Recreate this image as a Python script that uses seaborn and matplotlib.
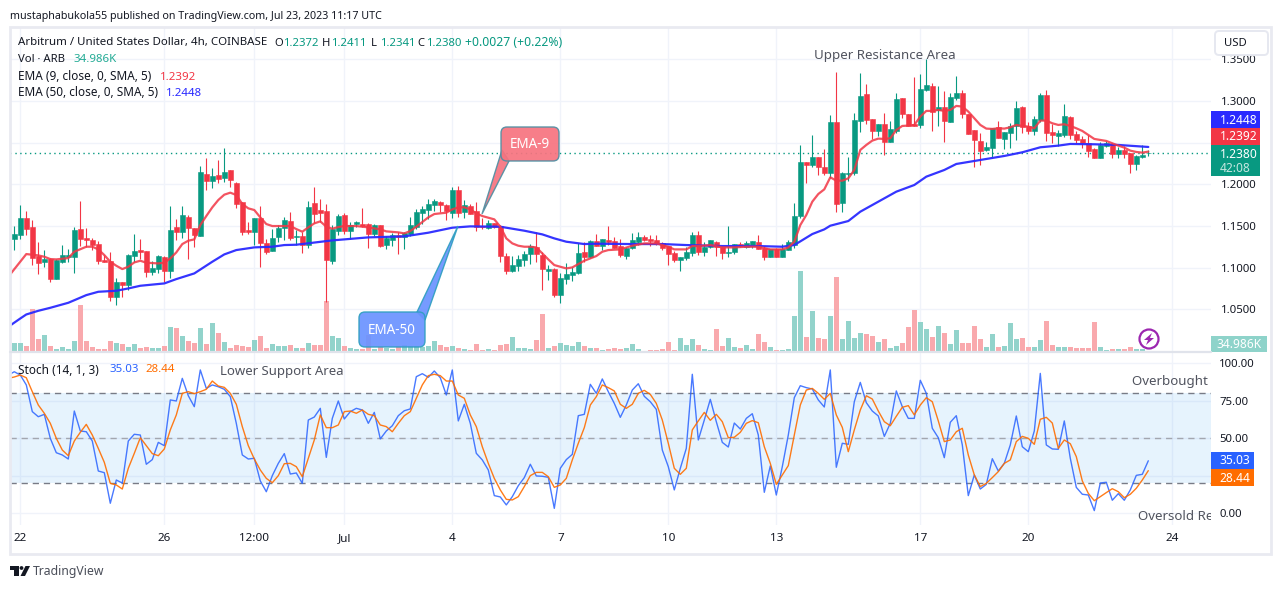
import matplotlib
matplotlib.use('Agg')
import matplotlib.pyplot as plt
from matplotlib import patches
import numpy as np
import seaborn as sns

# Prix (bougies 4h)
direction = list(
    "GGRRRGRGGG" "GRRRRRRGRG" "GRRGGRGRGR" "RGRGRGRRRR" "GRRGGGRGRG"
    "RRRGGRGGRR" "GRGGRGGGGG" "GRRGRGRRRG" "RRRGGGGRRG" "RGGGGRGRGR"
    "RRGGGRRRRR" "RGGGRGGRRG" "GRGGRRGRGG" "GGRGRRGRGG" "GGRRGRGGRR"
    "RGGRGRGGRR" "RRGGRGGGRR" "GGRRGGRRRR" "RGGRGRRGGG"
)

high = [
    1.1500,1.1752,1.1680,1.1572,1.1308,1.1212,1.1116,1.1104,1.1272,1.1224,
    1.1488,1.1800,1.1476,1.1356,1.1320,1.1152,1.1188,1.0876,1.0828,1.1164,
    1.1404,1.1344,1.1200,1.1080,1.1152,1.1140,1.1740,1.1584,1.1740,1.1632,
    1.1476,1.2220,1.2316,1.2196,1.2292,1.2436,1.2172,1.2028,1.1788,1.1548,
    1.1596,1.1740,1.1344,1.1464,1.1512,1.1608,1.1668,1.1452,1.1428,1.1800,
    1.1968,1.1824,1.1764,1.1512,1.1644,1.1656,1.1548,1.1560,1.1716,1.1536,
    1.1524,1.1512,1.1380,1.1416,1.1428,1.1428,1.1608,1.1704,1.1740,1.1824,
    1.1824,1.1800,1.1764,1.1968,1.1980,1.1812,1.1764,1.1788,1.1596,1.1572,
    1.1536,1.1512,1.1176,1.1140,1.1152,1.1200,1.1284,1.1428,1.1188,1.1032,
    1.0996,1.0936,1.1056,1.1008,1.1296,1.1308,1.1332,1.1404,1.1344,1.1500,
    1.1368,1.1344,1.1248,1.1416,1.1428,1.1392,1.1392,1.1392,1.1308,1.1260,
    1.1200,1.1128,1.1248,1.1428,1.1440,1.1308,1.1332,1.1320,1.1248,1.1500,
    1.1284,1.1308,1.1320,1.1320,1.1392,1.1260,1.1224,1.1236,1.1284,1.1332,
    1.1776,1.2472,1.2268,1.2592,1.2328,1.2424,1.2832,1.3348,1.2148,1.2328,
    1.2856,1.3336,1.3204,1.2784,1.2724,1.2856,1.2760,1.3096,1.3036,1.2844,
    1.3288,1.3324,1.3504,1.3216,1.3180,1.3120,1.3096,1.3300,1.3132,1.2844,
    1.2652,1.2616,1.2508,1.2676,1.2760,1.2628,1.2736,1.3000,1.2940,1.2748,
    1.2820,1.3096,1.3132,1.2724,1.2652,1.2964,1.2820,1.2640,1.2580,1.2592,
    1.2436,1.2508,1.2520,1.2496,1.2448,1.2460,1.2376,1.2352,1.2472,1.2411,
]
body_top = [
    1.1404,1.1596,1.1596,1.1488,1.1140,1.1104,1.1104,1.1092,1.1152,1.1152,
    1.1452,1.1464,1.1356,1.1332,1.1284,1.1092,1.1080,1.0828,1.0828,1.1152,
    1.1200,1.1212,1.1200,1.0996,1.1140,1.1128,1.1452,1.1488,1.1632,1.1608,
    1.1476,1.2148,1.2124,1.2100,1.2112,1.2148,1.2172,1.2016,1.1788,1.1452,
    1.1596,1.1596,1.1296,1.1356,1.1476,1.1572,1.1560,1.1380,1.1380,1.1728,
    1.1776,1.1692,1.1680,1.1464,1.1620,1.1632,1.1512,1.1548,1.1524,1.1524,
    1.1512,1.1512,1.1356,1.1392,1.1392,1.1416,1.1512,1.1668,1.1704,1.1764,
    1.1800,1.1788,1.1752,1.1932,1.1932,1.1752,1.1740,1.1680,1.1500,1.1536,
    1.1536,1.1500,1.1140,1.1032,1.1104,1.1164,1.1260,1.1248,1.1152,1.0984,
    1.0984,1.0876,1.0924,1.0948,1.1176,1.1188,1.1320,1.1320,1.1344,1.1332,
    1.1320,1.1260,1.1236,1.1332,1.1368,1.1368,1.1344,1.1332,1.1296,1.1260,
    1.1176,1.1128,1.1188,1.1392,1.1392,1.1248,1.1332,1.1308,1.1248,1.1188,
    1.1284,1.1284,1.1296,1.1320,1.1308,1.1236,1.1224,1.1224,1.1224,1.1308,
    1.1620,1.2268,1.2268,1.2328,1.2328,1.2208,1.2748,1.2748,1.2136,1.2136,
    1.2772,1.3060,1.3084,1.2784,1.2724,1.2724,1.2664,1.3024,1.3036,1.2844,
    1.2724,1.3144,1.3192,1.3180,1.2928,1.2928,1.3048,1.3096,1.3096,1.2844,
    1.2652,1.2520,1.2448,1.2676,1.2688,1.2628,1.2700,1.2916,1.2928,1.2700,
    1.2784,1.3072,1.3072,1.2628,1.2616,1.2820,1.2808,1.2604,1.2544,1.2496,
    1.2424,1.2472,1.2492,1.2484,1.2412,1.2412,1.2376,1.2340,1.2352,1.2380,
]
body_bottom = [
    1.1344,1.1392,1.1464,1.1116,1.1056,1.1068,1.0864,1.0864,1.1068,1.1128,
    1.1128,1.1344,1.1332,1.1272,1.1080,1.1068,1.0648,1.0648,1.0792,1.0792,
    1.1140,1.1188,1.0948,1.0948,1.0984,1.0960,1.0960,1.1428,1.1428,1.1476,
    1.1392,1.1380,1.2040,1.2040,1.2064,1.2076,1.2052,1.1764,1.1428,1.1428,
    1.1428,1.1296,1.1188,1.1200,1.1368,1.1476,1.1356,1.1368,1.1272,1.1272,
    1.1644,1.1656,1.1092,1.1080,1.1440,1.1440,1.1440,1.1524,1.1500,1.1404,
    1.1404,1.1260,1.1272,1.1332,1.1368,1.1368,1.1404,1.1488,1.1656,1.1692,
    1.1752,1.1752,1.1680,1.1656,1.1656,1.1668,1.1644,1.1488,1.1488,1.1476,
    1.1488,1.1140,1.0960,1.0960,1.1020,1.1092,1.1164,1.1164,1.0984,1.0960,
    1.0672,1.0672,1.0864,1.0912,1.0936,1.1128,1.1128,1.1260,1.1260,1.1308,
    1.1236,1.1152,1.1140,1.1236,1.1308,1.1332,1.1320,1.1284,1.1236,1.1164,
    1.1092,1.1092,1.1116,1.1176,1.1188,1.1188,1.1248,1.1248,1.1176,1.1176,
    1.1188,1.1272,1.1248,1.1272,1.1224,1.1128,1.1128,1.1128,1.1128,1.1212,
    1.1272,1.1620,1.2232,1.2232,1.2208,1.2136,1.2136,1.1764,1.1776,1.2124,
    1.2136,1.2760,1.2772,1.2640,1.2640,1.2508,1.2508,1.2640,1.2844,1.2700,
    1.2700,1.2712,1.3132,1.2868,1.2892,1.2760,1.2748,1.3036,1.2844,1.2604,
    1.2532,1.2400,1.2412,1.2436,1.2556,1.2544,1.2616,1.2700,1.2688,1.2640,
    1.2640,1.2772,1.2616,1.2592,1.2580,1.2592,1.2592,1.2532,1.2496,1.2400,
    1.2316,1.2316,1.2460,1.2364,1.2364,1.2364,1.2244,1.2244,1.2328,1.2372,
]
low = [
    1.1212,1.1344,1.1392,1.1032,1.0924,1.1008,1.0828,1.0864,1.1056,1.1068,
    1.0936,1.1260,1.1248,1.1212,1.1044,1.1068,1.0600,1.0552,1.0648,1.0732,
    1.1068,1.1104,1.0888,1.0912,1.0936,1.0828,1.0876,1.1332,1.1356,1.1104,
    1.1248,1.1380,1.1932,1.1956,1.2016,1.2028,1.1968,1.1716,1.1392,1.1404,
    1.1272,1.1008,1.1164,1.1200,1.1308,1.1332,1.1332,1.1272,1.1176,1.1236,
    1.1536,1.1548,1.0592,1.1044,1.1392,1.1404,1.1344,1.1488,1.1488,1.1236,
    1.1380,1.1248,1.1224,1.1260,1.1164,1.1224,1.1380,1.1464,1.1524,1.1584,
    1.1680,1.1668,1.1572,1.1596,1.1608,1.1596,1.1644,1.1440,1.1464,1.1464,
    1.1476,1.1068,1.0924,1.0948,1.0960,1.1020,1.1044,1.1068,1.0732,1.0852,
    1.0648,1.0576,1.0804,1.0840,1.0924,1.1068,1.1116,1.1260,1.1212,1.1272,
    1.1236,1.1128,1.1104,1.1224,1.1272,1.1320,1.1260,1.1272,1.1212,1.1032,
    1.1068,1.0960,1.1092,1.1140,1.1152,1.1140,1.1236,1.1140,1.1104,1.1128,
    1.1164,1.1248,1.1236,1.1236,1.1224,1.1092,1.1128,1.1128,1.1128,1.1212,
    1.1236,1.1596,1.2016,1.2208,1.2112,1.2112,1.2076,1.1668,1.1668,1.2040,
    1.2112,1.2628,1.2724,1.2544,1.2580,1.2352,1.2508,1.2616,1.2796,1.2700,
    1.2700,1.2676,1.3120,1.2640,1.2700,1.2508,1.2748,1.3012,1.2796,1.2604,
    1.2208,1.2232,1.2400,1.2328,1.2556,1.2424,1.2436,1.2532,1.2616,1.2604,
    1.2592,1.2748,1.2520,1.2496,1.2460,1.2568,1.2544,1.2496,1.2436,1.2328,
    1.2316,1.2316,1.2452,1.2316,1.2316,1.2316,1.2136,1.2172,1.2316,1.2341,
]

# Volume en milliers
volume = [
    225,225,150,1075,325,425,150,75,125,75,275,1175,275,125,75,75,275,225,200,125,
    200,100,125,100,100,150,625,600,400,275,225,600,200,725,475,250,100,175,150,125,
    300,400,100,200,150,150,175,100,
    100,225,175,175,1275,400,350,150,100,75,75,425,75,125,100,75,150,175,150,150,
    125,150,275,175,125,150,100,75,50,200,50,75,50,175,200,375,100,100,75,300,
    950,100,150,225,175,150,250,150,100,
    100,50,75,100,75,100,200,75,25,50,50,75,250,50,350,175,325,175,75,50,
    575,150,350,125,100,175,75,450,250,125,50,50,75,900,2025,375,1025,350,325,900,
    1875,325,775,350,475,450,
    400,250,325,100,150,225,625,1050,750,575,375,650,475,200,550,225,225,650,325,125,
    450,125,150,725,325,350,125,125,300,775,175,125,125,125,100,100,100,750,125,50,
    75,75,75,125,75,75,34.986,
]

# Moyennes mobiles : indice de bougie, valeur
ema9_idx = [
    -1,1,2,4,5,6,7,9,10,12,13,14,15,16,17,18,19,20,21,22,24,25,26,27,28,29,30,31,32,33,
    34,35,36,37,38,39,40,41,42,43,45,46,47,48,49,50,51,52,53,54,55,57,59,61,62,64,65,66,67,68,
    69,70,71,72,73,74,75,76,77,78,79,80,81,82,83,84,85,86,87,88,89,90,91,92,93,94,95,96,97,98,
    99,101,103,105,107,108,109,110,112,113,114,116,118,120,122,124,126,128,129,130,131,132,133,134,135,136,137,138,139,140,
    141,142,143,144,145,146,147,148,149,150,151,152,153,154,155,156,157,158,159,160,161,162,163,164,165,166,167,168,169,170,
    171,172,173,174,175,176,177,178,179,180,181,182,183,184,185,186,187,188,189,
]
ema9 = [
    1.0892,1.1072,1.1164,1.1148,1.1132,1.1104,1.1100,1.1116,1.1192,1.1252,1.1252,1.1220,1.1152,1.1072,1.1024,1.0984,1.1012,1.1064,1.1084,1.1060,
    1.1052,1.1060,1.1112,1.1184,1.1284,1.1324,1.1340,1.1512,1.1620,1.1724,
    1.1812,1.1876,1.1900,1.1872,1.1764,1.1712,1.1692,1.1604,1.1524,1.1500,1.1500,1.1500,1.1464,1.1432,1.1484,1.1532,1.1556,1.1492,1.1468,1.1488,
    1.1500,1.1500,1.1484,1.1460,1.1436,1.1424,1.1412,1.1440,1.1492,1.1548,
    1.1604,1.1644,1.1652,1.1660,1.1700,1.1724,1.1724,1.1700,1.1652,1.1620,1.1600,1.1580,1.1492,1.1352,1.1292,1.1264,1.1252,1.1252,1.1244,1.1172,
    1.1100,1.1032,1.1012,1.0992,1.1004,1.1044,1.1084,1.1112,1.1140,1.1192,
    1.1212,1.1220,1.1264,1.1292,1.1292,1.1272,1.1252,1.1220,1.1220,1.1260,1.1260,1.1272,1.1244,1.1244,1.1252,1.1252,1.1220,1.1220,1.1244,1.1312,
    1.1512,1.1632,1.1792,1.1884,1.1940,1.2084,1.2044,1.2044,1.2072,1.2172,
    1.2412,1.2472,1.2524,1.2548,1.2544,1.2552,1.2652,1.2700,1.2704,1.2712,1.2812,1.2880,1.2880,1.2892,1.2880,1.2892,1.2940,1.2932,1.2872,1.2792,
    1.2712,1.2668,1.2664,1.2672,1.2668,1.2684,1.2712,1.2700,1.2692,1.2672,
    1.2764,1.2764,1.2732,1.2712,1.2720,1.2700,1.2672,1.2640,1.2592,1.2544,1.2532,1.2520,1.2492,1.2464,1.2440,1.2404,1.2388,1.2380,1.2392,
]
ema50_idx = [
    -1,1,2,4,6,9,12,14,17,19,21,25,27,30,33,35,37,40,43,45,47,53,59,65,69,73,76,81,85,88,
    90,92,95,97,103,108,112,118,124,128,130,133,135,136,139,141,144,147,150,152,155,157,161,165,168,171,174,176,180,184,189,
]
ema50 = [
    1.0292,1.0392,1.0440,1.0484,1.0520,1.0580,1.0672,1.0712,1.0724,1.0752,1.0784,1.0812,1.0864,1.0932,1.1072,1.1160,1.1212,1.1244,1.1252,1.1272,
    1.1276,1.1328,1.1364,1.1376,1.1420,1.1480,1.1496,1.1492,1.1444,1.1400,
    1.1352,1.1312,1.1284,1.1288,1.1284,1.1284,1.1272,1.1260,1.1260,1.1252,1.1272,1.1404,1.1460,1.1504,1.1560,1.1672,1.1792,1.1912,1.1992,1.2092,
    1.2172,1.2244,1.2292,1.2340,1.2384,1.2444,1.2464,1.2484,1.2480,1.2472,1.2448,
]

# Stochastique, de l'indice -1 a 189
stoch_k = [
    92.2,94.4,92.2,85.6,67.8,64.4,66.0,50.0,40.4,38.9,36.2,68.2,54.9,54.4,48.2,28.2,27.1,6.7,22.2,20.2,
    48.2,52.7,52.2,32.7,35.8,47.3,45.1,75.6,74.9,90.0,78.4,71.1,95.6,83.3,85.6,84.4,82.7,77.8,60.0,38.9,
    36.2,36.7,21.6,14.4,25.1,33.3,39.8,26.2,26.9,20.0,62.2,64.2,70.0,37.3,63.3,74.9,62.9,67.8,70.0,68.9,
    60.0,67.3,49.6,54.9,58.4,65.1,
    68.4,69.6,91.1,93.1,90.7,94.9,90.4,78.9,95.6,61.6,72.7,60.0,40.0,35.6,28.9,11.8,10.9,5.6,11.1,18.4,
    23.8,32.7,24.9,24.7,24.0,3.3,30.0,35.8,39.3,65.1,66.0,86.0,80.0,89.6,81.1,73.3,64.0,72.2,82.2,86.4,
    78.0,74.4,69.3,42.2,31.1,15.6,30.0,43.3,92.7,48.9,62.2,76.0,61.1,47.3,44.2,60.2,56.2,63.3,66.4,52.2,
    14.0,31.6,12.2,31.1,52.2,77.1,85.1,
    83.8,82.9,75.6,70.9,95.6,30.7,46.7,46.0,74.4,87.3,73.8,68.2,64.9,51.3,60.0,81.6,71.1,63.3,63.3,88.7,
    80.0,56.7,50.4,37.1,60.7,65.1,45.6,11.8,25.6,16.2,19.3,36.4,28.2,33.3,45.6,64.9,44.4,41.1,54.9,93.3,
    45.6,42.9,42.7,61.6,36.7,17.3,12.7,12.2,1.8,20.2,20.7,8.7,13.1,8.7,15.6,25.3,26.0,35.03,
]
stoch_d = [
    90.0,90.9,92.2,90.4,81.1,72.2,66.7,60.0,50.0,42.2,38.4,48.2,54.0,59.3,52.2,43.3,34.0,20.0,18.9,16.2,
    30.0,40.0,50.4,45.1,39.8,38.4,42.9,55.6,65.6,80.0,81.1,79.8,81.1,82.7,88.2,84.9,84.0,80.0,72.7,57.8,
    45.1,36.2,28.9,23.3,20.4,25.1,33.1,33.3,31.1,24.4,36.7,48.9,65.6,57.1,57.1,58.9,67.8,68.2,66.7,68.9,
    66.0,65.1,58.9,57.8,54.4,60.0,
    65.1,67.8,76.7,85.6,91.8,92.7,91.8,88.2,88.2,78.9,76.7,65.6,57.8,44.4,33.3,23.3,15.6,9.3,8.9,11.1,
    17.8,25.1,27.3,27.3,24.4,17.3,18.9,23.3,35.6,46.7,57.1,72.2,77.8,85.6,83.8,81.6,72.7,70.0,72.7,80.0,
    82.0,79.3,73.3,62.2,46.7,30.0,26.0,30.0,55.6,61.6,67.3,62.0,66.0,61.1,50.4,50.7,54.0,60.0,61.8,60.4,
    44.4,33.3,19.3,25.6,31.8,52.2,72.2,
    82.2,83.3,80.0,76.0,80.0,65.6,57.3,41.1,55.6,68.9,78.4,76.2,68.2,61.1,58.4,64.7,70.7,71.8,65.6,72.2,
    77.1,74.4,61.6,47.8,48.9,54.4,56.7,38.9,25.6,17.8,20.0,23.8,27.8,33.3,35.6,47.8,51.3,50.0,46.0,62.7,
    64.0,60.2,43.3,48.9,46.4,37.8,21.6,13.3,8.4,11.1,13.8,16.4,14.4,10.4,12.7,16.7,22.2,28.44,
]

# 1.2500 et 25.00 restent caches par les etiquettes dans l'original
price_ticks = [1.05, 1.10, 1.15, 1.20, 1.25, 1.30, 1.35]
price_labels = ['1.0500', '1.1000', '1.1500', '1.2000', '', '1.3000', '1.3500']
stoch_ticks = [0, 25, 50, 75, 100]
stoch_labels = ['0.00', '', '50.00', '75.00', '100.00']
time_ticks = [1, 25, 40, 55, 73, 91, 109, 127, 151, 169, 193]
time_labels = ['22', '26', '12:00', 'Jul', '4', '7', '10', '13', '17', '20', '24']
last_close = 1.2380

GREEN = '#089981'
RED = '#F23645'
TXT = '#131722'
SOFT = '#50535E'
GRID = '#F0F3FA'

W, H = 1281, 589
sns.set_theme(style='white')
plt.rcParams['font.family'] = ['Noto Sans', 'DejaVu Sans']

fig = plt.figure(figsize=(W / 100, H / 100), dpi=100, facecolor='white')


def rect(left, top, right, bottom):
    return [left / W, 1 - bottom / H, (right - left) / W, (bottom - top) / H]


xlim = (-0.717, 199.45)
price_lim = (0.9990, 1.3886)

ax_grid = fig.add_axes(rect(10, 27, 1211, 352))
ax_vol = fig.add_axes(rect(10, 27, 1211, 352))
ax_price = fig.add_axes(rect(10, 27, 1211, 352))
ax_stoch = fig.add_axes(rect(10, 353, 1211, 525))

# grille
ax_grid.set_xlim(xlim)
ax_grid.set_ylim(price_lim)
ax_grid.set_xticks(time_ticks)
ax_grid.set_yticks(price_ticks)
ax_grid.grid(True, color=GRID, lw=1)
ax_grid.tick_params(left=False, bottom=False, labelleft=False, labelbottom=False)

# volume
bar_idx = np.arange(len(volume))
vol_colors = ['#92D3CB' if d == 'G' else '#F9A9AD' for d in direction]
ax_vol.bar(bar_idx, volume, width=0.78, color=vol_colors, lw=0)
ax_vol.set_xlim(xlim)
ax_vol.set_ylim(0, 8125)
ax_vol.patch.set_alpha(0)
ax_vol.axis('off')

# bougies
x = np.arange(len(high))
colors = [GREEN if d == 'G' else RED for d in direction]
ax_price.vlines(x, low, high, colors=colors, lw=0.8, zorder=2)
heights = np.array(body_top) - np.array(body_bottom)
ax_price.bar(x, heights, bottom=body_bottom, width=0.76, color=colors, edgecolor=colors, lw=0.4, zorder=3)
ax_price.axhline(last_close, color=GREEN, lw=1, ls=(0, (1, 2.5)), zorder=1)
sns.lineplot(x=ema50_idx, y=ema50, color='#2A2AFF', lw=1.6, alpha=0.95, ax=ax_price, zorder=4)
sns.lineplot(x=ema9_idx, y=ema9, color='#F23645', lw=1.6, alpha=0.85, ax=ax_price, zorder=5)
ax_price.set_xlim(xlim)
ax_price.set_ylim(price_lim)
ax_price.patch.set_alpha(0)
ax_price.set_xticks([])
ax_price.set_yticks(price_ticks)
ax_price.set_yticklabels(price_labels)
ax_price.yaxis.tick_right()
ax_price.tick_params(axis='y', length=0, pad=7.5, labelsize=8.2, labelcolor=TXT)
for side in ax_price.spines.values():
    side.set_visible(False)
for a in (ax_grid, ax_vol):
    for side in a.spines.values():
        side.set_visible(False)

# stochastique
stoch_x = np.arange(-1, len(stoch_k) - 1)
ax_stoch.axhspan(20, 80, color='#2196F3', alpha=0.11, lw=0, zorder=1)
for level, col in [(80, '#787B86'), (50, '#A3A6AF'), (20, '#787B86')]:
    ax_stoch.axhline(level, color=col, lw=1, ls=(0, (4.5, 3.5)), zorder=2)
sns.lineplot(x=stoch_x, y=stoch_k, color='#2962FF', lw=1, alpha=0.85, ax=ax_stoch, zorder=3)
sns.lineplot(x=stoch_x, y=stoch_d, color='#FF6D00', lw=1, alpha=0.9, ax=ax_stoch, zorder=4)
ax_stoch.set_xlim(xlim)
ax_stoch.set_ylim(-7.8, 106.9)
ax_stoch.set_xticks(time_ticks)
ax_stoch.set_xticklabels(time_labels)
ax_stoch.set_yticks(stoch_ticks)
ax_stoch.set_yticklabels(stoch_labels)
ax_stoch.yaxis.tick_right()
ax_stoch.grid(True, color=GRID, lw=1)
ax_stoch.set_axisbelow(True)
ax_stoch.tick_params(axis='y', length=0, pad=6, labelsize=8.2, labelcolor=TXT)
ax_stoch.tick_params(axis='x', length=0, pad=6, labelsize=8.4, labelcolor=TXT)
for side in ax_stoch.spines.values():
    side.set_visible(False)

# calque en pixels pour le texte et les etiquettes
over = fig.add_axes([0, 0, 1, 1], zorder=10)
over.set_xlim(0, W)
over.set_ylim(H, 0)
over.axis('off')
over.patch.set_alpha(0)


def label(px, py, s, size=11.8, color=TXT, ha='left', **kw):
    return over.text(px, py + 1, s, fontsize=size * 0.72, color=color, ha=ha, va='center', **kw)


def box(left, top, right, bottom, color):
    over.add_patch(patches.Rectangle((left, top), right - left, bottom - top, fc=color, ec='none'))


# cadre
over.add_patch(patches.Rectangle((9.5, 26.5), 1261, 527.5, fc='none', ec='#E9EAF1', lw=2))
over.plot([10, 1211], [352, 352], color='#E0E3EB', lw=1.6)

label(10, 15, 'mustaphabukola55 published on TradingView.com, Jul 23, 2023 11:17 UTC', size=10.7)
label(18, 42, 'Arbitrum / United States Dollar, 4h, COINBASE', size=11.5)
label(18, 59, 'Vol · ARB', size=11.3)
label(74, 59, '34.986K', size=11.5, color='#22AB94')
label(18, 76, 'EMA (9, close, 0, SMA, 5)')
label(160, 76, '1.2392', size=11.5, color=RED)
label(18, 92, 'EMA (50, close, 0, SMA, 5)')
label(166, 92, '1.2448', size=11.5, color='#2A2AFF')

for px, letter, value in [(274, 'O', '1.2372'), (322, 'H', '1.2411'), (371, 'L', '1.2341'), (417, 'C', '1.2380')]:
    label(px, 42, letter, size=11.3)
    label(px + 9, 42, value, size=11.3, color=GREEN)
label(465, 42, '+0.0027 (+0.22%)', size=12.2, color=GREEN)

label(18, 369, 'Stoch (14, 1, 3)')
label(109, 369, '35.03', size=11.5, color='#2962FF')
label(145, 369, '28.44', size=11.5, color='#FF6D00')

# annotations
clip = patches.Rectangle((10, 27), 1201, 498, transform=over.transData)
label(814, 55, 'Upper Resistance Area', size=13.3, color=SOFT)
label(220, 370, 'Lower Support Area', size=13.2, color=SOFT)
t = label(1132, 381, 'Overbought Region', size=13.3, color=SOFT)
t.set_clip_path(clip)
t.set_clip_on(True)
t = label(1138, 515, 'Oversold Re', size=13.3, color=SOFT)
t.set_clip_path(clip)
t.set_clip_on(True)


def callout(left, top, right, bottom, tail, fill, edge, text):
    over.add_patch(patches.Polygon(tail, closed=True, fc=fill, ec=edge, lw=1, alpha=0.92))
    over.add_patch(patches.FancyBboxPatch(
        (left + 6, top + 6), right - left - 12, bottom - top - 12,
        boxstyle='round,pad=6,rounding_size=6', fc=fill, ec=edge, lw=1, alpha=0.92))
    label((left + right) / 2, (top + bottom) / 2, text, size=13.5, color='white', ha='center')


callout(501, 127, 559, 161, [(482, 214), (502, 150), (509, 161)], '#F7737F', '#4F8FA3', 'EMA-9')
callout(359, 312, 425, 347, [(458, 226), (417, 312), (425, 320)], '#6A93FF', '#2F9FC0', 'EMA-50')

# etiquettes de l'echelle
box(1211, 111, 1260, 128, '#2A2AFF')
box(1211, 128, 1260, 145, RED)
box(1211, 145, 1260, 176, GREEN)
label(1220, 119, '1.2448', size=12, color='white', weight='bold')
label(1220, 136, '1.2392', size=12, color='white', weight='bold')
label(1220, 153, '1.2380', size=12, color='white', weight='bold')
label(1220, 167, '42:08', size=12, color='#C4E6E0', weight='bold')
box(1211, 336, 1267, 351.5, '#8ED3CA')
label(1216, 343, '34.986K', size=12, color='white', weight='bold')
box(1211, 452, 1254, 469, '#2962FF')
box(1211, 469, 1254, 486, '#FF6D00')
label(1219, 460, '35.03', size=12, color='white', weight='bold')
label(1219, 477, '28.44', size=12, color='white', weight='bold')

# bouton USD
over.add_patch(patches.FancyBboxPatch((1218, 34), 47, 18, boxstyle='round,pad=3,rounding_size=4',
                                      fc='white', ec='#E6E8F0', lw=1.4))
label(1224, 43, 'USD', size=11.3)

# icone eclair
over.add_patch(patches.Circle((1149, 339), 9.5, fc='white', ec='#9C27B0', lw=1.6))
over.add_patch(patches.Polygon([(1152, 333), (1144, 340), (1148, 340), (1146, 345), (1154, 338), (1150, 338)],
                               closed=True, fc='#9C27B0', ec='none'))

# logo TradingView
over.add_patch(patches.Polygon([(10, 566), (19, 566), (19, 576), (14, 576), (14, 570), (10, 570)], closed=True, fc=TXT, ec='none'))
over.add_patch(patches.Circle((21.5, 568), 1.9, fc=TXT, ec='none'))
over.add_patch(patches.Polygon([(25.5, 566), (30, 566), (25, 576), (20.5, 576)], closed=True, fc=TXT, ec='none'))
label(33, 571, 'TradingView', size=12.2, color='#4A4E59')

fig.savefig('out.png', dpi=100)
